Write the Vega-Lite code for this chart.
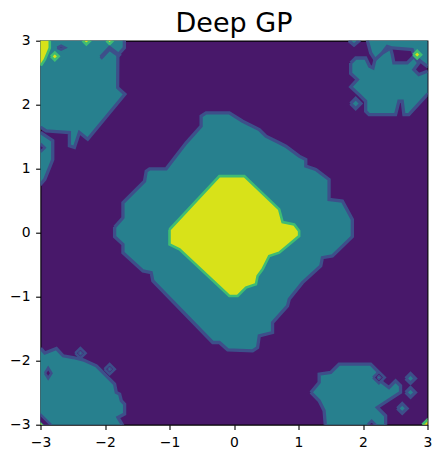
{
"$schema": "https://vega.github.io/schema/vega-lite/v6.json",
"width": 387, "height": 384,
"autosize": {"type": "none"},
"padding": {"left": 40.5, "top": 40.7, "right": 14.5, "bottom": 34.3},
"title": {"text": "Deep GP", "fontSize": 27, "font": "DejaVu Sans", "fontWeight": "normal", "color": "#000000", "anchor": "middle", "frame": "group", "baseline": "bottom", "offset": 3, "dy": 34},
"data": {"values": [
{"id":"A","o":1,"x":-1.851,"y":0.088,"c":"teal","z":1},
{"id":"A","o":2,"x":-1.722,"y":0.234,"c":"teal","z":1},
{"id":"A","o":3,"x":-1.722,"y":0.468,"c":"teal","z":1},
{"id":"A","o":4,"x":-1.387,"y":0.806,"c":"teal","z":1},
{"id":"A","o":5,"x":-1.361,"y":0.962,"c":"teal","z":1},
{"id":"A","o":6,"x":-1.309,"y":0.998,"c":"teal","z":1},
{"id":"A","o":7,"x":-1.052,"y":0.998,"c":"teal","z":1},
{"id":"A","o":8,"x":-0.742,"y":1.404,"c":"teal","z":1},
{"id":"A","o":9,"x":-0.51,"y":1.664,"c":"teal","z":1},
{"id":"A","o":10,"x":-0.51,"y":1.82,"c":"teal","z":1},
{"id":"A","o":11,"x":-0.433,"y":1.872,"c":"teal","z":1},
{"id":"A","o":12,"x":-0.072,"y":1.872,"c":"teal","z":1},
{"id":"A","o":13,"x":0.134,"y":1.742,"c":"teal","z":1},
{"id":"A","o":14,"x":0.392,"y":1.612,"c":"teal","z":1},
{"id":"A","o":15,"x":0.495,"y":1.508,"c":"teal","z":1},
{"id":"A","o":16,"x":0.701,"y":1.404,"c":"teal","z":1},
{"id":"A","o":17,"x":0.804,"y":1.352,"c":"teal","z":1},
{"id":"A","o":18,"x":1.01,"y":1.196,"c":"teal","z":1},
{"id":"A","o":19,"x":1.113,"y":1.144,"c":"teal","z":1},
{"id":"A","o":20,"x":1.113,"y":1.04,"c":"teal","z":1},
{"id":"A","o":21,"x":1.268,"y":0.988,"c":"teal","z":1},
{"id":"A","o":22,"x":1.474,"y":0.832,"c":"teal","z":1},
{"id":"A","o":23,"x":1.474,"y":0.52,"c":"teal","z":1},
{"id":"A","o":24,"x":1.68,"y":0.494,"c":"teal","z":1},
{"id":"A","o":25,"x":1.835,"y":0.208,"c":"teal","z":1},
{"id":"A","o":26,"x":1.835,"y":-0.062,"c":"teal","z":1},
{"id":"A","o":27,"x":1.526,"y":-0.364,"c":"teal","z":1},
{"id":"A","o":28,"x":1.371,"y":-0.39,"c":"teal","z":1},
{"id":"A","o":29,"x":1.345,"y":-0.52,"c":"teal","z":1},
{"id":"A","o":30,"x":1.062,"y":-0.78,"c":"teal","z":1},
{"id":"A","o":31,"x":0.856,"y":-1.04,"c":"teal","z":1},
{"id":"A","o":32,"x":0.83,"y":-1.144,"c":"teal","z":1},
{"id":"A","o":33,"x":0.598,"y":-1.404,"c":"teal","z":1},
{"id":"A","o":34,"x":0.598,"y":-1.56,"c":"teal","z":1},
{"id":"A","o":35,"x":0.392,"y":-1.612,"c":"teal","z":1},
{"id":"A","o":36,"x":0.366,"y":-1.794,"c":"teal","z":1},
{"id":"A","o":37,"x":0.289,"y":-1.846,"c":"teal","z":1},
{"id":"A","o":38,"x":-0.098,"y":-1.83,"c":"teal","z":1},
{"id":"A","o":39,"x":-0.227,"y":-1.716,"c":"teal","z":1},
{"id":"A","o":40,"x":-0.33,"y":-1.716,"c":"teal","z":1},
{"id":"A","o":41,"x":-1.258,"y":-0.754,"c":"teal","z":1},
{"id":"A","o":42,"x":-1.284,"y":-0.624,"c":"teal","z":1},
{"id":"A","o":43,"x":-1.412,"y":-0.598,"c":"teal","z":1},
{"id":"A","o":44,"x":-1.722,"y":-0.312,"c":"teal","z":1},
{"id":"A","o":45,"x":-1.722,"y":-0.182,"c":"teal","z":1},
{"id":"A","o":46,"x":-1.851,"y":-0.062,"c":"teal","z":1},
{"id":"A","o":47,"x":-1.851,"y":0.088,"c":"teal","z":1},
{"id":"B","o":1,"x":-1.0,"y":0.05,"c":"yellow","z":2},
{"id":"B","o":2,"x":-0.227,"y":0.884,"c":"yellow","z":2},
{"id":"B","o":3,"x":0.16,"y":0.884,"c":"yellow","z":2},
{"id":"B","o":4,"x":0.701,"y":0.364,"c":"yellow","z":2},
{"id":"B","o":5,"x":0.753,"y":0.166,"c":"yellow","z":2},
{"id":"B","o":6,"x":0.933,"y":0.13,"c":"yellow","z":2},
{"id":"B","o":7,"x":1.01,"y":0.026,"c":"yellow","z":2},
{"id":"B","o":8,"x":1.01,"y":-0.052,"c":"yellow","z":2},
{"id":"B","o":9,"x":0.701,"y":-0.312,"c":"yellow","z":2},
{"id":"B","o":10,"x":0.546,"y":-0.364,"c":"yellow","z":2},
{"id":"B","o":11,"x":0.443,"y":-0.572,"c":"yellow","z":2},
{"id":"B","o":12,"x":0.366,"y":-0.676,"c":"yellow","z":2},
{"id":"B","o":13,"x":0.34,"y":-0.806,"c":"yellow","z":2},
{"id":"B","o":14,"x":0.186,"y":-0.858,"c":"yellow","z":2},
{"id":"B","o":15,"x":0.057,"y":-0.988,"c":"yellow","z":2},
{"id":"B","o":16,"x":-0.072,"y":-0.988,"c":"yellow","z":2},
{"id":"B","o":17,"x":-0.845,"y":-0.26,"c":"yellow","z":2},
{"id":"B","o":18,"x":-1.0,"y":-0.182,"c":"yellow","z":2},
{"id":"B","o":19,"x":-1.0,"y":0.05,"c":"yellow","z":2},
{"id":"TL","o":1,"x":-3.1,"y":3.1,"c":"teal","z":1},
{"id":"TL","o":2,"x":-1.70,"y":3.1,"c":"teal","z":1},
{"id":"TL","o":3,"x":-1.70,"y":2.89,"c":"teal","z":1},
{"id":"TL","o":4,"x":-1.80,"y":2.78,"c":"teal","z":1},
{"id":"TL","o":5,"x":-1.804,"y":2.267,"c":"teal","z":1},
{"id":"TL","o":6,"x":-1.691,"y":2.163,"c":"teal","z":1},
{"id":"TL","o":7,"x":-2.268,"y":1.461,"c":"teal","z":1},
{"id":"TL","o":8,"x":-2.397,"y":1.565,"c":"teal","z":1},
{"id":"TL","o":9,"x":-2.474,"y":1.331,"c":"teal","z":1},
{"id":"TL","o":10,"x":-2.552,"y":1.357,"c":"teal","z":1},
{"id":"TL","o":11,"x":-2.552,"y":1.565,"c":"teal","z":1},
{"id":"TL","o":12,"x":-2.912,"y":1.591,"c":"teal","z":1},
{"id":"TL","o":13,"x":-2.99,"y":1.643,"c":"teal","z":1},
{"id":"TL","o":14,"x":-3.1,"y":1.643,"c":"teal","z":1},
{"id":"TL","o":15,"x":-3.1,"y":3.1,"c":"teal","z":1},
{"id":"TL2","o":1,"x":-3.1,"y":1.56,"c":"teal","z":1},
{"id":"TL2","o":2,"x":-2.99,"y":1.56,"c":"teal","z":1},
{"id":"TL2","o":3,"x":-2.81,"y":1.44,"c":"teal","z":1},
{"id":"TL2","o":4,"x":-2.81,"y":1.14,"c":"teal","z":1},
{"id":"TL2","o":5,"x":-2.933,"y":0.832,"c":"teal","z":1},
{"id":"TL2","o":6,"x":-3.0,"y":0.754,"c":"teal","z":1},
{"id":"TL2","o":7,"x":-3.1,"y":0.754,"c":"teal","z":1},
{"id":"TL2","o":8,"x":-3.1,"y":1.56,"c":"teal","z":1},
{"id":"TR","o":1,"x":1.809,"y":2.652,"c":"teal","z":1},
{"id":"TR","o":2,"x":1.887,"y":2.73,"c":"teal","z":1},
{"id":"TR","o":3,"x":2.041,"y":2.73,"c":"teal","z":1},
{"id":"TR","o":4,"x":2.103,"y":2.6,"c":"teal","z":1},
{"id":"TR","o":5,"x":2.155,"y":2.574,"c":"teal","z":1},
{"id":"TR","o":6,"x":2.186,"y":2.704,"c":"teal","z":1},
{"id":"TR","o":7,"x":2.299,"y":2.808,"c":"teal","z":1},
{"id":"TR","o":8,"x":2.428,"y":2.886,"c":"teal","z":1},
{"id":"TR","o":9,"x":2.454,"y":2.782,"c":"teal","z":1},
{"id":"TR","o":10,"x":2.479,"y":2.652,"c":"teal","z":1},
{"id":"TR","o":11,"x":2.686,"y":2.652,"c":"teal","z":1},
{"id":"TR","o":12,"x":2.789,"y":2.756,"c":"teal","z":1},
{"id":"TR","o":13,"x":2.866,"y":2.652,"c":"teal","z":1},
{"id":"TR","o":14,"x":2.789,"y":2.548,"c":"teal","z":1},
{"id":"TR","o":15,"x":2.866,"y":2.47,"c":"teal","z":1},
{"id":"TR","o":16,"x":2.995,"y":2.522,"c":"teal","z":1},
{"id":"TR","o":17,"x":3.1,"y":2.522,"c":"teal","z":1},
{"id":"TR","o":18,"x":3.1,"y":2.132,"c":"teal","z":1},
{"id":"TR","o":19,"x":2.995,"y":2.158,"c":"teal","z":1},
{"id":"TR","o":20,"x":2.711,"y":1.846,"c":"teal","z":1},
{"id":"TR","o":21,"x":2.634,"y":1.846,"c":"teal","z":1},
{"id":"TR","o":22,"x":2.608,"y":2.054,"c":"teal","z":1},
{"id":"TR","o":23,"x":2.557,"y":2.054,"c":"teal","z":1},
{"id":"TR","o":24,"x":2.505,"y":1.846,"c":"teal","z":1},
{"id":"TR","o":25,"x":2.093,"y":1.846,"c":"teal","z":1},
{"id":"TR","o":26,"x":2.041,"y":1.898,"c":"teal","z":1},
{"id":"TR","o":27,"x":2.041,"y":2.054,"c":"teal","z":1},
{"id":"TR","o":28,"x":1.938,"y":2.158,"c":"teal","z":1},
{"id":"TR","o":29,"x":1.809,"y":2.278,"c":"teal","z":1},
{"id":"TR","o":30,"x":1.912,"y":2.392,"c":"teal","z":1},
{"id":"TR","o":31,"x":1.809,"y":2.486,"c":"teal","z":1},
{"id":"TR","o":32,"x":1.809,"y":2.652,"c":"teal","z":1},
{"id":"TR2","o":1,"x":2.041,"y":3.1,"c":"teal","z":1},
{"id":"TR2","o":2,"x":3.1,"y":3.1,"c":"teal","z":1},
{"id":"TR2","o":3,"x":3.1,"y":2.6,"c":"teal","z":1},
{"id":"TR2","o":4,"x":2.995,"y":2.6,"c":"teal","z":1},
{"id":"TR2","o":5,"x":2.892,"y":2.678,"c":"teal","z":1},
{"id":"TR2","o":6,"x":2.789,"y":2.782,"c":"teal","z":1},
{"id":"TR2","o":7,"x":2.763,"y":2.86,"c":"teal","z":1},
{"id":"TR2","o":8,"x":2.454,"y":2.886,"c":"teal","z":1},
{"id":"TR2","o":9,"x":2.376,"y":2.912,"c":"teal","z":1},
{"id":"TR2","o":10,"x":2.299,"y":2.808,"c":"teal","z":1},
{"id":"TR2","o":11,"x":2.186,"y":2.704,"c":"teal","z":1},
{"id":"TR2","o":12,"x":2.119,"y":2.808,"c":"teal","z":1},
{"id":"TR2","o":13,"x":2.041,"y":3.1,"c":"teal","z":1},
{"id":"BR","o":1,"x":1.191,"y":-2.496,"c":"teal","z":1},
{"id":"BR","o":2,"x":1.32,"y":-2.34,"c":"teal","z":1},
{"id":"BR","o":3,"x":1.32,"y":-2.21,"c":"teal","z":1},
{"id":"BR","o":4,"x":1.5,"y":-2.184,"c":"teal","z":1},
{"id":"BR","o":5,"x":1.629,"y":-2.054,"c":"teal","z":1},
{"id":"BR","o":6,"x":2.119,"y":-2.054,"c":"teal","z":1},
{"id":"BR","o":7,"x":2.222,"y":-2.158,"c":"teal","z":1},
{"id":"BR","o":8,"x":2.299,"y":-2.34,"c":"teal","z":1},
{"id":"BR","o":9,"x":2.402,"y":-2.418,"c":"teal","z":1},
{"id":"BR","o":10,"x":2.505,"y":-2.314,"c":"teal","z":1},
{"id":"BR","o":11,"x":2.582,"y":-2.392,"c":"teal","z":1},
{"id":"BR","o":12,"x":2.582,"y":-2.496,"c":"teal","z":1},
{"id":"BR","o":13,"x":2.222,"y":-2.73,"c":"teal","z":1},
{"id":"BR","o":14,"x":2.351,"y":-2.86,"c":"teal","z":1},
{"id":"BR","o":15,"x":2.351,"y":-3.1,"c":"teal","z":1},
{"id":"BR","o":16,"x":1.423,"y":-3.1,"c":"teal","z":1},
{"id":"BR","o":17,"x":1.397,"y":-2.782,"c":"teal","z":1},
{"id":"BR","o":18,"x":1.32,"y":-2.626,"c":"teal","z":1},
{"id":"BR","o":19,"x":1.191,"y":-2.496,"c":"teal","z":1},
{"id":"BL","o":1,"x":-3.1,"y":-1.82,"c":"teal","z":1},
{"id":"BL","o":2,"x":-2.985,"y":-1.82,"c":"teal","z":1},
{"id":"BL","o":3,"x":-2.933,"y":-1.882,"c":"teal","z":1},
{"id":"BL","o":4,"x":-2.753,"y":-1.81,"c":"teal","z":1},
{"id":"BL","o":5,"x":-2.649,"y":-1.924,"c":"teal","z":1},
{"id":"BL","o":6,"x":-2.495,"y":-1.95,"c":"teal","z":1},
{"id":"BL","o":7,"x":-2.34,"y":-1.986,"c":"teal","z":1},
{"id":"BL","o":8,"x":-2.134,"y":-2.08,"c":"teal","z":1},
{"id":"BL","o":9,"x":-1.979,"y":-2.236,"c":"teal","z":1},
{"id":"BL","o":10,"x":-1.851,"y":-2.366,"c":"teal","z":1},
{"id":"BL","o":11,"x":-1.825,"y":-2.496,"c":"teal","z":1},
{"id":"BL","o":12,"x":-1.773,"y":-2.522,"c":"teal","z":1},
{"id":"BL","o":13,"x":-1.747,"y":-2.626,"c":"teal","z":1},
{"id":"BL","o":14,"x":-1.696,"y":-2.678,"c":"teal","z":1},
{"id":"BL","o":15,"x":-1.696,"y":-2.834,"c":"teal","z":1},
{"id":"BL","o":16,"x":-1.799,"y":-2.886,"c":"teal","z":1},
{"id":"BL","o":17,"x":-1.722,"y":-3.016,"c":"teal","z":1},
{"id":"BL","o":18,"x":-1.722,"y":-3.1,"c":"teal","z":1},
{"id":"BL","o":19,"x":-3.1,"y":-3.1,"c":"teal","z":1},
{"id":"BL","o":20,"x":-3.1,"y":-1.82,"c":"teal","z":1},
{"id":"t1","o":1,"x":1.781,"y":3.0,"c":"teal","z":1},
{"id":"t1","o":2,"x":1.861,"y":3.07,"c":"teal","z":1},
{"id":"t1","o":3,"x":1.941,"y":3.0,"c":"teal","z":1},
{"id":"t1","o":4,"x":1.861,"y":2.93,"c":"teal","z":1},
{"id":"t1","o":5,"x":1.781,"y":3.0,"c":"teal","z":1},
{"id":"t2","o":1,"x":1.807,"y":2.018,"c":"teal","z":1},
{"id":"t2","o":2,"x":1.887,"y":2.098,"c":"teal","z":1},
{"id":"t2","o":3,"x":1.967,"y":2.018,"c":"teal","z":1},
{"id":"t2","o":4,"x":1.887,"y":1.938,"c":"teal","z":1},
{"id":"t2","o":5,"x":1.807,"y":2.018,"c":"teal","z":1},
{"id":"t3","o":1,"x":2.662,"y":-2.278,"c":"teal","z":1},
{"id":"t3","o":2,"x":2.737,"y":-2.203,"c":"teal","z":1},
{"id":"t3","o":3,"x":2.812,"y":-2.278,"c":"teal","z":1},
{"id":"t3","o":4,"x":2.737,"y":-2.353,"c":"teal","z":1},
{"id":"t3","o":5,"x":2.662,"y":-2.278,"c":"teal","z":1},
{"id":"t4","o":1,"x":2.662,"y":-2.496,"c":"teal","z":1},
{"id":"t4","o":2,"x":2.737,"y":-2.421,"c":"teal","z":1},
{"id":"t4","o":3,"x":2.812,"y":-2.496,"c":"teal","z":1},
{"id":"t4","o":4,"x":2.737,"y":-2.571,"c":"teal","z":1},
{"id":"t4","o":5,"x":2.662,"y":-2.496,"c":"teal","z":1},
{"id":"t5","o":1,"x":2.533,"y":-2.746,"c":"teal","z":1},
{"id":"t5","o":2,"x":2.608,"y":-2.671,"c":"teal","z":1},
{"id":"t5","o":3,"x":2.683,"y":-2.746,"c":"teal","z":1},
{"id":"t5","o":4,"x":2.608,"y":-2.821,"c":"teal","z":1},
{"id":"t5","o":5,"x":2.533,"y":-2.746,"c":"teal","z":1},
{"id":"y1","o":1,"x":-3.1,"y":3.1,"c":"yellow","z":2},
{"id":"y1","o":2,"x":-2.856,"y":3.1,"c":"yellow","z":2},
{"id":"y1","o":3,"x":-2.856,"y":2.886,"c":"yellow","z":2},
{"id":"y1","o":4,"x":-2.933,"y":2.704,"c":"yellow","z":2},
{"id":"y1","o":5,"x":-2.985,"y":2.626,"c":"yellow","z":2},
{"id":"y1","o":6,"x":-3.1,"y":2.626,"c":"yellow","z":2},
{"id":"y1","o":7,"x":-3.1,"y":3.1,"c":"yellow","z":2},
{"id":"y2","o":1,"x":-2.838,"y":2.756,"c":"yellow","z":2},
{"id":"y2","o":2,"x":-2.778,"y":2.816,"c":"yellow","z":2},
{"id":"y2","o":3,"x":-2.718,"y":2.756,"c":"yellow","z":2},
{"id":"y2","o":4,"x":-2.778,"y":2.696,"c":"yellow","z":2},
{"id":"y2","o":5,"x":-2.838,"y":2.756,"c":"yellow","z":2},
{"id":"y3","o":1,"x":-2.349,"y":3.0,"c":"yellow","z":2},
{"id":"y3","o":2,"x":-2.289,"y":3.06,"c":"yellow","z":2},
{"id":"y3","o":3,"x":-2.229,"y":3.0,"c":"yellow","z":2},
{"id":"y3","o":4,"x":-2.289,"y":2.94,"c":"yellow","z":2},
{"id":"y3","o":5,"x":-2.349,"y":3.0,"c":"yellow","z":2},
{"id":"y4","o":1,"x":-1.978,"y":3.0,"c":"yellow","z":2},
{"id":"y4","o":2,"x":-1.928,"y":3.05,"c":"yellow","z":2},
{"id":"y4","o":3,"x":-1.878,"y":3.0,"c":"yellow","z":2},
{"id":"y4","o":4,"x":-1.928,"y":2.95,"c":"yellow","z":2},
{"id":"y4","o":5,"x":-1.978,"y":3.0,"c":"yellow","z":2},
{"id":"y5","o":1,"x":2.78,"y":2.782,"c":"yellow","z":2},
{"id":"y5","o":2,"x":2.84,"y":2.842,"c":"yellow","z":2},
{"id":"y5","o":3,"x":2.9,"y":2.782,"c":"yellow","z":2},
{"id":"y5","o":4,"x":2.84,"y":2.722,"c":"yellow","z":2},
{"id":"y5","o":5,"x":2.78,"y":2.782,"c":"yellow","z":2},
{"id":"y6","o":1,"x":2.92,"y":-3.0,"c":"yellow","z":2},
{"id":"y6","o":2,"x":3.0,"y":-2.92,"c":"yellow","z":2},
{"id":"y6","o":3,"x":3.08,"y":-3.0,"c":"yellow","z":2},
{"id":"y6","o":4,"x":3.0,"y":-3.08,"c":"yellow","z":2},
{"id":"y6","o":5,"x":2.92,"y":-3.0,"c":"yellow","z":2},
{"id":"p1","o":1,"x":-2.74,"y":2.89,"c":"purple","z":2},
{"id":"p1","o":2,"x":-2.68,"y":2.92,"c":"purple","z":2},
{"id":"p1","o":3,"x":-2.62,"y":2.89,"c":"purple","z":2},
{"id":"p1","o":4,"x":-2.68,"y":2.86,"c":"purple","z":2},
{"id":"p1","o":5,"x":-2.74,"y":2.89,"c":"purple","z":2},
{"id":"p2","o":1,"x":-2.07,"y":2.75,"c":"purple","z":2},
{"id":"p2","o":2,"x":-1.93,"y":2.9,"c":"purple","z":2},
{"id":"p2","o":3,"x":-1.77,"y":2.78,"c":"purple","z":2},
{"id":"p2","o":4,"x":-1.79,"y":2.76,"c":"purple","z":2},
{"id":"p2","o":5,"x":-1.93,"y":2.86,"c":"purple","z":2},
{"id":"p2","o":6,"x":-2.05,"y":2.73,"c":"purple","z":2},
{"id":"p2","o":7,"x":-2.07,"y":2.75,"c":"purple","z":2},
{"id":"p3","o":1,"x":-3.035,"y":1.326,"c":"purple","z":2},
{"id":"p3","o":2,"x":-2.985,"y":1.376,"c":"purple","z":2},
{"id":"p3","o":3,"x":-2.935,"y":1.326,"c":"purple","z":2},
{"id":"p3","o":4,"x":-2.985,"y":1.276,"c":"purple","z":2},
{"id":"p3","o":5,"x":-3.035,"y":1.326,"c":"purple","z":2},
{"id":"p4","o":1,"x":2.157,"y":-2.262,"c":"purple","z":2},
{"id":"p4","o":2,"x":2.247,"y":-2.172,"c":"purple","z":2},
{"id":"p4","o":3,"x":2.337,"y":-2.262,"c":"purple","z":2},
{"id":"p4","o":4,"x":2.247,"y":-2.352,"c":"purple","z":2},
{"id":"p4","o":5,"x":2.157,"y":-2.262,"c":"purple","z":2},
{"id":"p5","o":1,"x":2.074,"y":-3.0,"c":"purple","z":2},
{"id":"p5","o":2,"x":2.134,"y":-2.94,"c":"purple","z":2},
{"id":"p5","o":3,"x":2.194,"y":-3.0,"c":"purple","z":2},
{"id":"p5","o":4,"x":2.134,"y":-3.06,"c":"purple","z":2},
{"id":"p5","o":5,"x":2.074,"y":-3.0,"c":"purple","z":2},
{"id":"p6","o":1,"x":-2.461,"y":-1.882,"c":"purple","z":2},
{"id":"p6","o":2,"x":-2.381,"y":-1.802,"c":"purple","z":2},
{"id":"p6","o":3,"x":-2.301,"y":-1.882,"c":"purple","z":2},
{"id":"p6","o":4,"x":-2.381,"y":-1.962,"c":"purple","z":2},
{"id":"p6","o":5,"x":-2.461,"y":-1.882,"c":"purple","z":2},
{"id":"p7","o":1,"x":-2.008,"y":-2.132,"c":"purple","z":2},
{"id":"p7","o":2,"x":-1.928,"y":-2.052,"c":"purple","z":2},
{"id":"p7","o":3,"x":-1.848,"y":-2.132,"c":"purple","z":2},
{"id":"p7","o":4,"x":-1.928,"y":-2.212,"c":"purple","z":2},
{"id":"p7","o":5,"x":-2.008,"y":-2.132,"c":"purple","z":2},
{"id":"p8","o":1,"x":-2.931,"y":-2.195,"c":"purple","z":2},
{"id":"p8","o":2,"x":-2.881,"y":-2.115,"c":"purple","z":2},
{"id":"p8","o":3,"x":-2.831,"y":-2.195,"c":"purple","z":2},
{"id":"p8","o":4,"x":-2.881,"y":-2.275,"c":"purple","z":2},
{"id":"p8","o":5,"x":-2.931,"y":-2.195,"c":"purple","z":2},
{"id":"p9","o":1,"x":-3.1,"y":-2.74,"c":"purple","z":2},
{"id":"p9","o":2,"x":-2.74,"y":-3.1,"c":"purple","z":2},
{"id":"p9","o":3,"x":-3.1,"y":-3.1,"c":"purple","z":2},
{"id":"p9","o":4,"x":-3.1,"y":-2.74,"c":"purple","z":2},
{"id":"q1","o":1,"x":2.217,"y":-2.262,"c":"teal","z":3},
{"id":"q1","o":2,"x":2.247,"y":-2.232,"c":"teal","z":3},
{"id":"q1","o":3,"x":2.277,"y":-2.262,"c":"teal","z":3},
{"id":"q1","o":4,"x":2.247,"y":-2.292,"c":"teal","z":3},
{"id":"q1","o":5,"x":2.217,"y":-2.262,"c":"teal","z":3},
{"id":"q2","o":1,"x":-2.411,"y":-1.882,"c":"teal","z":3},
{"id":"q2","o":2,"x":-2.381,"y":-1.852,"c":"teal","z":3},
{"id":"q2","o":3,"x":-2.351,"y":-1.882,"c":"teal","z":3},
{"id":"q2","o":4,"x":-2.381,"y":-1.912,"c":"teal","z":3},
{"id":"q2","o":5,"x":-2.411,"y":-1.882,"c":"teal","z":3},
{"id":"q3","o":1,"x":-1.958,"y":-2.132,"c":"teal","z":3},
{"id":"q3","o":2,"x":-1.928,"y":-2.102,"c":"teal","z":3},
{"id":"q3","o":3,"x":-1.898,"y":-2.132,"c":"teal","z":3},
{"id":"q3","o":4,"x":-1.928,"y":-2.162,"c":"teal","z":3},
{"id":"q3","o":5,"x":-1.958,"y":-2.132,"c":"teal","z":3},
{"id":"y7","o":1,"x":-3.1,"y":-2.87,"c":"yellow","z":3},
{"id":"y7","o":2,"x":-2.87,"y":-3.1,"c":"yellow","z":3},
{"id":"y7","o":3,"x":-3.1,"y":-3.1,"c":"yellow","z":3},
{"id":"y7","o":4,"x":-3.1,"y":-2.87,"c":"yellow","z":3}
]},
"encoding": {
  "x": {"field": "x", "type": "quantitative", "scale": {"domain": [-3, 3], "nice": false, "zero": false}, "axis": {"values": [-3, -2, -1, 0, 1, 2, 3], "title": null}},
  "y": {"field": "y", "type": "quantitative", "scale": {"domain": [-3, 3], "nice": false, "zero": false}, "axis": {"values": [-3, -2, -1, 0, 1, 2, 3], "title": null}},
  "order": {"field": "o", "type": "quantitative"},
  "detail": {"field": "id", "type": "nominal"},
  "fill": {"field": "c", "type": "nominal", "scale": {"domain": ["teal", "yellow", "purple"], "range": ["#27808e", "#d8e219", "#48186a"]}, "legend": null},
  "stroke": {"field": "c", "type": "nominal", "scale": {"domain": ["teal", "yellow", "purple"], "range": ["#3d4f8a", "#3fbc73", "#3d4f8a"]}, "legend": null}
},
"layer": [
  {"transform": [{"filter": "datum.z == 1"}], "mark": {"type": "line", "clip": true, "strokeWidth": 3.3, "strokeJoin": "miter"}},
  {"transform": [{"filter": "datum.z == 2"}], "mark": {"type": "line", "clip": true, "strokeWidth": 2.6, "strokeJoin": "miter"}},
  {"transform": [{"filter": "datum.z == 3"}], "mark": {"type": "line", "clip": true, "strokeWidth": 1.5, "strokeJoin": "miter"}}
],
"config": {
  "view": {"fill": "#48186a", "stroke": "#000000", "strokeWidth": 1.1},
  "axis": {"domain": false, "grid": false, "ticks": true, "tickColor": "#000000", "tickSize": 4.9, "tickWidth": 1.1, "labelFont": "DejaVu Sans", "labelFontSize": 13.9, "labelColor": "#000000", "labelPadding": 5.5, "labelFlush": false, "labelOverlap": false, "labelBound": false}
}
}
